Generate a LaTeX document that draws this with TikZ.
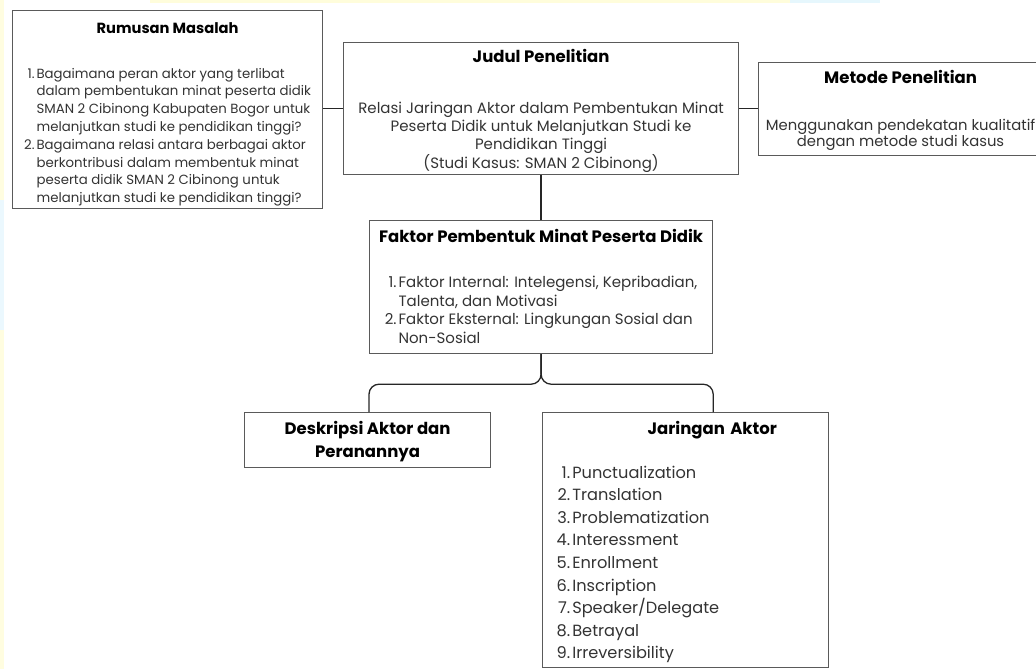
\documentclass[tikz,border=0pt]{standalone}
\usepackage{fontspec}
\setmainfont{Poppins}
\usetikzlibrary{positioning,calc}
\definecolor{cLine}{HTML}{5A5A5A}
\definecolor{cText}{HTML}{333333}
\newcommand{\ttl}[2][16.5]{{\bfseries\fontsize{#1}{18}\selectfont\color{black}#2}}

\begin{document}
\begin{tikzpicture}[
  x=1pt,y=-1pt,
  box/.style={draw=cLine,line width=1.2pt,inner sep=0pt,anchor=north west,
              align=center,text=cText},
  ln/.style={draw=black!85,line width=1.3pt},
  ]
  \useasboundingbox (0,0) rectangle (1036,669);
  % faint backdrop strips
  \fill[yellow!12] (0,0) rectangle (4,669);
  \fill[cyan!8] (0,200) rectangle (4,330);
  \fill[yellow!14] (150,0) rectangle (870,3);
  \fill[cyan!10] (790,0) rectangle (880,3);

  \node[box,minimum width=310,minimum height=198,
        font=\fontsize{13.3}{17.8}\selectfont] (rum) at (12,10)
    {\rule{0pt}{22pt}\ttl[14.7]{Rumusan Masalah}\\[27pt]
     \begin{tabular}[t]{@{}r@{\hspace{2pt}}l@{}}
       1. & Bagaimana peran aktor yang terlibat\\
          & dalam pembentukan minat peserta didik\\
          & SMAN 2 Cibinong Kabupaten Bogor untuk\\
          & melanjutkan studi ke pendidikan tinggi?\\
       2. & Bagaimana relasi antara berbagai aktor\\
          & berkontribusi dalam membentuk minat\\
          & peserta didik SMAN 2 Cibinong untuk\\
          & melanjutkan studi ke pendidikan tinggi?
     \end{tabular}};
  \node[box,minimum width=395,minimum height=132,
        font=\fontsize{15}{18}\selectfont] (jud) at (343,42)
    {\rule{0pt}{18pt}\ttl{Judul Penelitian}\\[33pt]
     Relasi Jaringan Aktor dalam Pembentukan Minat\\
     Peserta Didik untuk Melanjutkan Studi ke\\
     Pendidikan Tinggi\\
     (Studi Kasus: SMAN 2 Cibinong)};
  \node[box,minimum width=284,minimum height=93,
        font=\fontsize{14.8}{16}\selectfont] (met) at (758,62)
    {\rule{0pt}{16.5pt}\ttl{Metode Penelitian}\\[31pt]
     Menggunakan pendekatan kualitatif\\
     dengan metode studi kasus};
  \node[box,minimum width=343,minimum height=133,
        font=\fontsize{15}{18.5}\selectfont] (fak) at (369,220)
    {\rule{0pt}{17pt}\ttl{Faktor Pembentuk Minat Peserta Didik}\\[27pt]
     \begin{tabular}[t]{@{}r@{\hspace{2pt}}l@{}}
       1. & Faktor Internal: Intelegensi, Kepribadian,\\
          & Talenta, dan Motivasi\\
       2. & Faktor Eksternal: Lingkungan Sosial dan\\
          & Non-Sosial
     \end{tabular}};
  \node[box,minimum width=246,minimum height=55] (desk) at (244,412)
    {\rule{0pt}{17pt}\ttl{Deskripsi Aktor dan}\\[6pt]\ttl{Peranannya}};
  \node[box,minimum width=286,minimum height=255,align=left,inner xsep=14pt,
        text width=258pt,font=\fontsize{16.2}{22.6}\selectfont] (jar) at (542,412)
    {\rule{0pt}{20pt}\hspace*{91pt}\ttl{Jaringan Aktor}\\[21pt]
     \begin{tabular}[t]{@{}r@{\hspace{2pt}}l@{}}
       1. & Punctualization\\
       2. & Translation\\
       3. & Problematization\\
       4. & Interessment\\
       5. & Enrollment\\
       6. & Inscription\\
       7. & Speaker/Delegate\\
       8. & Betrayal\\
       9. & Irreversibility
     \end{tabular}};

  \coordinate (split) at ($(fak.south)+(0,30)$);
  \draw[ln] (jud.west) -- (jud.west -| rum.east);
  \draw[ln] (jud.east) -- (jud.east -| met.west);
  \draw[ln] (jud.south) -- (fak.north);
  \draw[ln,rounded corners=10pt] (fak.south) -- (split)
    -| (fak.south west |- desk.north);
  \draw[ln,rounded corners=10pt] (fak.south) -- (split)
    -| (fak.south east |- jar.north);
\end{tikzpicture}
\end{document}
